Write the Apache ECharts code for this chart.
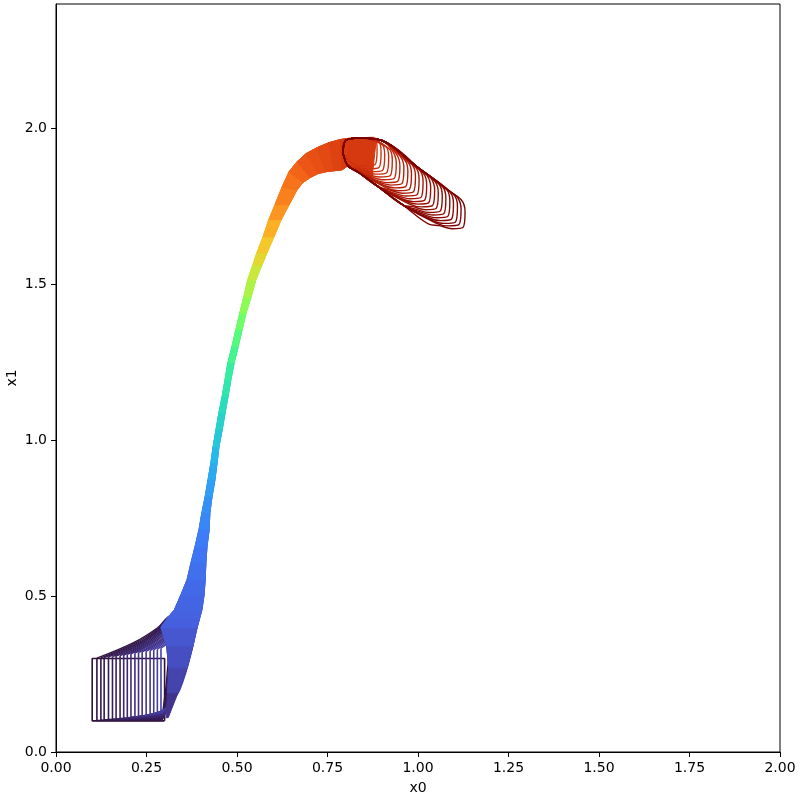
<!DOCTYPE html>
<html><head><meta charset="utf-8">
<script src="https://cdn.jsdelivr.net/npm/echarts@6/dist/echarts.min.js"></script>
<style>html,body{margin:0;padding:0;background:#fff}#c{width:800px;height:800px}</style>
</head><body><div id="c"></div>
<script>
// ---------- axis ticks ----------
const xTicks = [0, 0.25, 0.5, 0.75, 1.0, 1.25, 1.5, 1.75, 2.0];
const yTicks = [0, 0.5, 1.0, 1.5, 2.0];

// ---------- phase A : the initial box being squeezed (fan at the bottom) ----------
const boxTime    = [0.000,0.003,0.007,0.010,0.013,0.017,0.020,0.023,0.027,0.030,0.033,0.037,0.040,0.043,0.047,0.050,0.053,0.057,0.060];
const boxLeftX   = [0.100,0.113,0.124,0.133,0.145,0.156,0.166,0.177,0.187,0.197,0.207,0.218,0.228,0.238,0.249,0.260,0.270,0.280,0.290];
const boxBottomY = [0.100,0.101,0.102,0.103,0.104,0.105,0.106,0.107,0.108,0.110,0.111,0.112,0.114,0.115,0.117,0.118,0.120,0.122,0.124];
const boxTopY    = [0.300,0.301,0.302,0.303,0.305,0.306,0.308,0.309,0.311,0.313,0.315,0.317,0.319,0.321,0.323,0.325,0.328,0.330,0.333];
const boxCorner  = [0.300, 0.100];
const boxTopRight = [0.300, 0.300];
// upper edge of each squeezed box (index 0 is the plain box)
const fanTopA = [null,[0.213,0.350],[0.220,0.350],[0.227,0.350],[0.234,0.351],[0.241,0.352],[0.248,0.353],[0.255,0.354],[0.262,0.355],[0.269,0.357],[0.276,0.358],[0.283,0.360],[0.290,0.361],[0.297,0.363],[0.304,0.365],[0.311,0.367],[0.318,0.369],[0.325,0.371],[0.332,0.373]];
const fanTopB = [null,[0.280,0.398],[0.284,0.398],[0.288,0.398],[0.292,0.399],[0.296,0.400],[0.300,0.401],[0.304,0.402],[0.308,0.403],[0.312,0.404],[0.316,0.405],[0.320,0.406],[0.324,0.407],[0.328,0.408],[0.332,0.409],[0.336,0.410],[0.340,0.411],[0.344,0.412],[0.348,0.413]];
const fanTopEnd = [null,[0.322,0.440],[0.324,0.440],[0.326,0.440],[0.328,0.440],[0.330,0.440],[0.332,0.440],[0.334,0.440],[0.336,0.440],[0.338,0.440],[0.340,0.440],[0.342,0.440],[0.344,0.440],[0.346,0.440],[0.348,0.440],[0.350,0.440],[0.352,0.440],[0.354,0.440],[0.356,0.440]];
// right / lower edge of each squeezed box
const fanRightTop = [null,[0.372,0.440],[0.373,0.440],[0.374,0.440],[0.375,0.440],[0.377,0.440],[0.378,0.440],[0.379,0.440],[0.380,0.440],[0.381,0.440],[0.382,0.440],[0.384,0.440],[0.385,0.440],[0.386,0.440],[0.387,0.440],[0.388,0.440],[0.389,0.440],[0.390,0.440],[0.392,0.440]];
const fanRightMid = [null,[0.318,0.330],[0.322,0.330],[0.325,0.330],[0.329,0.330],[0.332,0.330],[0.336,0.330],[0.339,0.330],[0.342,0.330],[0.346,0.330],[0.349,0.330],[0.353,0.330],[0.356,0.330],[0.359,0.330],[0.363,0.330],[0.366,0.330],[0.369,0.330],[0.373,0.330],[0.376,0.330]];
const fanRightLow = [null,[0.303,0.200],[0.305,0.200],[0.307,0.200],[0.310,0.200],[0.312,0.200],[0.314,0.200],[0.317,0.200],[0.319,0.200],[0.321,0.200],[0.324,0.200],[0.326,0.200],[0.328,0.200],[0.331,0.200],[0.333,0.200],[0.335,0.200],[0.338,0.200],[0.340,0.200],[0.342,0.200]];
const fanBottomTurn = [null,[0.292,0.101],[0.293,0.103],[0.294,0.105],[0.295,0.107],[0.296,0.109],[0.297,0.111],[0.298,0.113],[0.299,0.116],[0.300,0.119],[0.301,0.122],[0.302,0.125],[0.303,0.128],[0.304,0.131],[0.305,0.134],[0.306,0.137],[0.307,0.140],[0.308,0.143],[0.309,0.146]];

// ---------- phase B : the tube (upper-left and lower-right boundaries, bottom to top) ----------
const tubeLeft = [[0.304,0.110],[0.308,0.190],[0.311,0.270],[0.306,0.340],[0.290,0.400],[0.308,0.430],
  [0.327,0.456],[0.345,0.504],[0.362,0.552],[0.373,0.607],[0.384,0.658],[0.395,0.713],[0.403,0.767],[0.412,0.819],[0.420,0.873],[0.428,0.928],[0.434,0.979],[0.442,1.034],[0.450,1.088],[0.459,1.140],[0.467,1.194],[0.475,1.249],[0.486,1.300],[0.497,1.355],[0.508,1.409],[0.519,1.461],[0.530,1.515],[0.544,1.563],[0.555,1.602],[0.572,1.653],[0.588,1.708],[0.605,1.756],[0.624,1.811],[0.644,1.862],[0.666,1.894],[0.691,1.920],[0.721,1.939],[0.754,1.955],[0.785,1.965],
  [0.810,1.969],[0.835,1.971],[0.860,1.970],[0.885,1.967]];
const tubeRight = [[0.310,0.110],[0.337,0.190],[0.362,0.270],[0.378,0.340],[0.390,0.400],[0.397,0.430],
  [0.403,0.456],[0.409,0.504],[0.412,0.552],[0.414,0.607],[0.417,0.658],[0.423,0.713],[0.425,0.767],[0.431,0.819],[0.439,0.873],[0.445,0.928],[0.450,0.979],[0.459,1.034],[0.467,1.088],[0.475,1.140],[0.483,1.194],[0.492,1.249],[0.503,1.300],[0.514,1.355],[0.525,1.409],[0.539,1.461],[0.552,1.515],[0.569,1.563],[0.583,1.602],[0.602,1.653],[0.622,1.708],[0.644,1.756],[0.666,1.804],[0.682,1.827],[0.702,1.843],[0.724,1.856],[0.746,1.862],[0.768,1.865],[0.790,1.868],
  [0.805,1.880],[0.828,1.872],[0.850,1.850],[0.872,1.832]];
const tubeTime = [0.045,0.065,0.080,0.090,0.100,0.105,
  0.11,0.12,0.13,0.14,0.15,0.165,0.18,0.20,0.22,0.245,0.27,0.29,0.31,0.335,0.355,0.38,0.41,0.45,0.49,0.53,0.57,0.61,0.64,0.68,0.72,0.75,0.77,0.79,0.81,0.82,0.83,0.84,0.85,0.855];
const tubeSpan = 3;

// ---------- phase C : the sets spreading at the end ----------
const endCornerX = [0.881,0.892,0.902,0.913,0.923,0.934,0.944,0.955,0.966,0.976,0.987,0.997,1.008,1.018,1.029,1.040,1.050,1.061,1.071,1.082,1.092,1.103,1.113,1.124];
const endCornerY = [1.884,1.875,1.866,1.858,1.849,1.840,1.831,1.823,1.814,1.805,1.797,1.788,1.779,1.770,1.762,1.753,1.744,1.735,1.727,1.718,1.709,1.700,1.692,1.683];
const endTime    = [0.860,0.866,0.872,0.878,0.884,0.890,0.897,0.903,0.909,0.915,0.921,0.927,0.933,0.939,0.945,0.951,0.957,0.963,0.969,0.975,0.981,0.988,0.994,1.000];
const endCapLeft = [0.793, 1.920];
const endTopLine = [[0.800,1.962],[0.840,1.970],[0.900,1.962],[1.000,1.875],[1.080,1.805]];
const endBottomLine = [[1.030,1.694],[0.960,1.754],[0.890,1.814],[0.835,1.860],[0.806,1.882]];
const endRightOffsets  = [[0.006,0.050],[-0.004,0.088]];
const endBottomOffsets = [[-0.030,-0.004],[-0.065,0.006]];

// ---------- turbo colour map ----------
const turboStops = [[48,18,59],[68,55,150],[70,95,222],[61,123,247],[47,158,245],[38,189,230],[39,215,195],[53,236,162],[78,249,131],[111,254,103],[150,250,80],[189,239,62],[223,220,50],[249,194,41],[254,163,35],[250,128,29],[240,93,23],[217,59,16],[184,32,8],[150,14,2],[122,4,3]];
function turbo(t){
  t = Math.max(0, Math.min(1, t));
  const f = t * (turboStops.length - 1);
  const i = Math.min(turboStops.length - 2, Math.floor(f));
  const u = f - i;
  const a = turboStops[i], b = turboStops[i + 1];
  const c = a.map((v, j) => Math.round(v + (b[j] - v) * u));
  return 'rgb(' + c.join(',') + ')';
}

const series = [];
function lineSeries(points, color, smooth, width, z){
  series.push({type:'line', data: points, symbol:'none', showSymbol:false, smooth: smooth, z: z,
    lineStyle:{color: color, width: width}, silent:true, animation:false, clip:true});
}

// phase A (drawn first, beneath the tube)
for (let k = 0; k < boxLeftX.length; k++){
  const col = turbo(boxTime[k]);
  const bl = [boxLeftX[k], boxBottomY[k]];
  const tl = [boxLeftX[k], boxTopY[k]];
  if (k === 0){
    lineSeries([boxCorner, bl, tl, boxTopRight, boxCorner], col, false, 1.6, 2);
  } else {
    lineSeries([fanBottomTurn[k], bl, tl], col, false, 1.6, 2);
    lineSeries([tl, fanTopA[k], fanTopB[k], fanTopEnd[k], fanRightTop[k], fanRightMid[k], fanRightLow[k], fanBottomTurn[k]], col, 0.35, 1.4, 2);
  }
}

// phase B (filled slivers along the tube)
const sliverData = tubeTime.map((t, k) => [tubeLeft[k][0], tubeLeft[k][1], k]);
series.push({
  type:'custom', coordinateSystem:'cartesian2d', silent:true, animation:false, z: 3,
  encode:{x:0, y:1},
  data: sliverData,
  renderItem: function(params, api){
    const k = api.value(2);
    const pts = [];
    for (let s = k; s <= k + tubeSpan; s++) pts.push(api.coord(tubeLeft[s]));
    for (let s = k + tubeSpan; s >= k; s--) pts.push(api.coord(tubeRight[s]));
    const col = turbo(tubeTime[k]);
    return {type:'polygon', shape:{points: pts}, style:{fill: col, stroke: col, lineWidth: 1}};
  }
});

// phase C (on top)
for (let j = 0; j < endCornerX.length; j++){
  const c = [endCornerX[j], endCornerY[j]];
  const r1 = [c[0] + endRightOffsets[0][0], c[1] + endRightOffsets[0][1]];
  const r2 = [c[0] + endRightOffsets[1][0], c[1] + endRightOffsets[1][1]];
  const n = [c[0] + endBottomOffsets[0][0], c[1] + endBottomOffsets[0][1]];
  const m = [c[0] + endBottomOffsets[1][0], c[1] + endBottomOffsets[1][1]];
  const pts = [endCapLeft];
  endTopLine.forEach(p => { if (p[0] < r2[0] - 0.02) pts.push(p); });
  pts.push(r2, r1, c, n, m);
  endBottomLine.forEach(p => { if (p[0] < m[0] - 0.025) pts.push(p); });
  pts.push(endCapLeft);
  lineSeries(pts, turbo(endTime[j]), 0.35, 1.4, 4);
}

const font = 'DejaVu Sans';
const chart = echarts.init(document.getElementById('c'), null, {renderer:'canvas'});
chart.setOption({
  animation:false,
  backgroundColor:'#fff',
  grid:{left:56, right:20, top:4, bottom:48, outerBoundsMode:'none', containLabel:false,
        show:true, borderColor:'#000', borderWidth:1, backgroundColor:'transparent'},
  xAxis:{type:'value', min:0, max:2, interval:0.25,
    name:'x0', nameLocation:'middle', nameGap:29, nameMoveOverlap:false, nameTextStyle:{color:'#000', fontSize:14, fontFamily:font},
    axisLine:{show:true, onZero:false, lineStyle:{color:'#000', width:1}},
    axisTick:{show:true, inside:false, length:5, lineStyle:{color:'#000'}, customValues:xTicks},
    axisLabel:{color:'#000', fontSize:14, fontFamily:font, margin:9, customValues:xTicks, formatter:(v)=>Number(v).toFixed(2)},
    splitLine:{show:false}},
  yAxis:{type:'value', min:0, max:2.4, interval:0.5,
    name:'x1', nameLocation:'middle', nameGap:37, nameMoveOverlap:false, nameTextStyle:{color:'#000', fontSize:14, fontFamily:font},
    axisLine:{show:true, onZero:false, lineStyle:{color:'#000', width:1}},
    axisTick:{show:true, inside:false, length:5, lineStyle:{color:'#000'}, customValues:yTicks},
    axisLabel:{color:'#000', fontSize:14, fontFamily:font, margin:9, customValues:yTicks, formatter:(v)=>Number(v).toFixed(1)},
    splitLine:{show:false}},
  series: series
});
</script></body></html>
